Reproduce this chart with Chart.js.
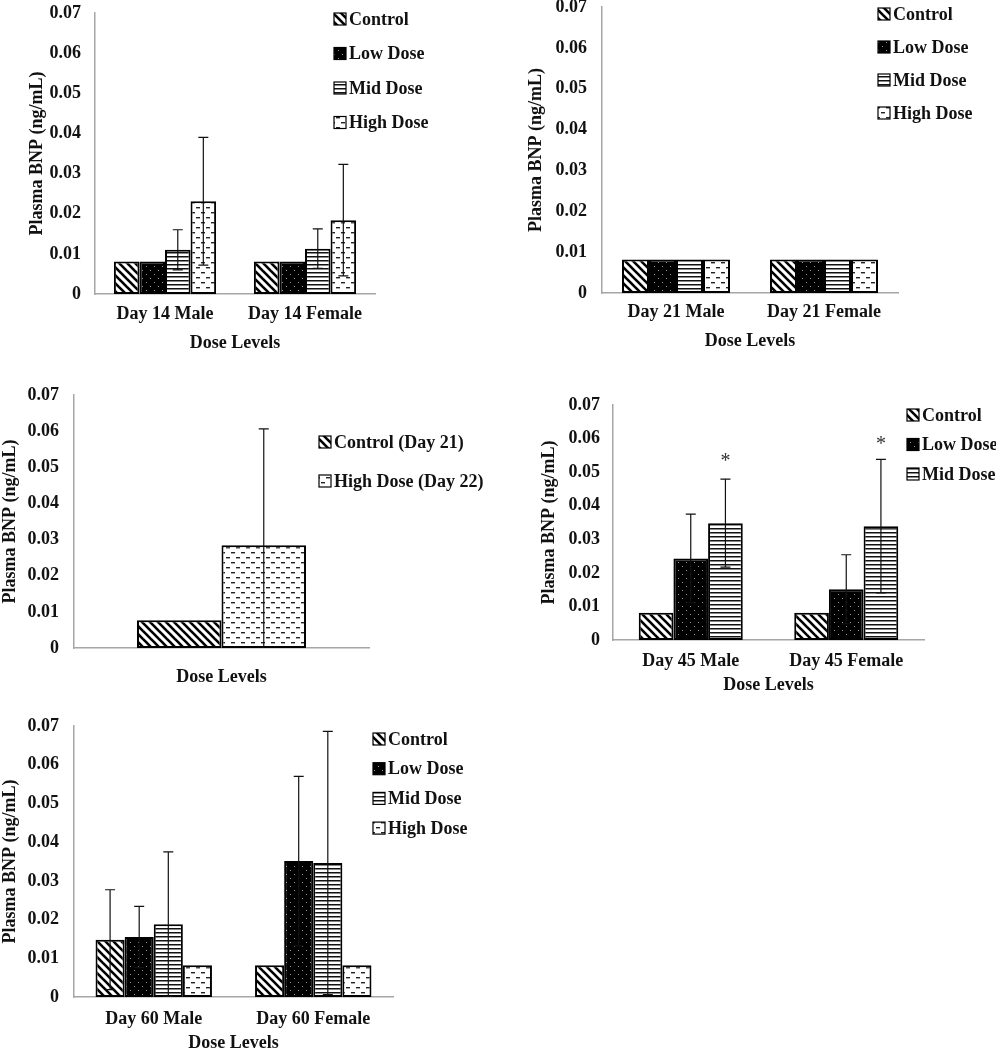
<!DOCTYPE html>
<html lang="en">
<head>
<meta charset="UTF-8">
<title>Plasma BNP by dose level</title>
<script src="https://cdn.jsdelivr.net/npm/chart.js"></script>
<style>
    body { margin: 0; background: #fff; }
    #page { position: relative; width: 996px; height: 1050px; overflow: hidden; background: #fff; }
    #page canvas { position: absolute; }
</style>
</head>
<body>
<div id="page">
    <canvas id="day14" width="500" height="360" style="left:0;top:0"></canvas>
    <canvas id="day21" width="496" height="360" style="left:500px;top:0"></canvas>
    <canvas id="recovery" width="500" height="340" style="left:0;top:360px"></canvas>
    <canvas id="day45" width="476" height="320" style="left:520px;top:380px"></canvas>
    <canvas id="day60" width="500" height="354" style="left:0;top:700px"></canvas>
</div>
<script>
// --- data (ng/mL) ---
const doseNames = ['Control', 'Low Dose', 'Mid Dose', 'High Dose'];
const recoveryNames = ['Control (Day 21)', 'High Dose (Day 22)'];

const day14Labels = ['Day 14 Male', 'Day 14 Female'];
const day14Control = [0.0081, 0.0081];
const day14Low = [0.0081, 0.0081];
const day14Mid = [0.0110, 0.0113];
const day14MidErr = [0.0050, 0.0049];
const day14High = [0.0231, 0.0184];
const day14HighErr = [0.0159, 0.0139];

const day21Labels = ['Day 21 Male', 'Day 21 Female'];
const day21Control = [0.0082, 0.0082];
const day21Low = [0.0082, 0.0082];
const day21Mid = [0.0082, 0.0082];
const day21High = [0.0082, 0.0082];

const recoveryLabels = [''];
const recoveryControl = [0.0077];
const recoveryHigh = [0.0284];
const recoveryHighErr = [0.0322];

const day45Labels = ['Day 45 Male', 'Day 45 Female'];
const day45Control = [0.0081, 0.0081];
const day45Low = [0.0243, 0.0151];
const day45LowErr = [0.0132, 0.0103];
const day45Mid = [0.0348, 0.0339];
const day45MidErr = [0.0131, 0.0199];
const day45Stars = [0.0540, 0.0590];   // height of the "*" marks

const day60Labels = ['Day 60 Male', 'Day 60 Female'];
const day60Control = [0.0148, 0.0082];
const day60ControlErr = [0.0129, 0];
const day60Low = [0.0155, 0.0351];
const day60LowErr = [0.0079, 0.0219];
const day60Mid = [0.0188, 0.0346];
const day60MidErr = [0.0187, 0.0340];
const day60High = [0.0082, 0.0082];

const yTicks = { min: 0, max: 0.07, step: 0.01 };

// --- fill patterns (Excel style hatches) ---
const FONT = "'Liberation Serif', 'Times New Roman', serif";
const helperCtx = document.createElement('canvas').getContext('2d');

function tile(w, h, draw) {
    const c = document.createElement('canvas');
    c.width = w; c.height = h;
    const g = c.getContext('2d');
    draw(g);
    return helperCtx.createPattern(c, 'repeat');
}

const patterns = {
    control: tile(8, 8, g => {
        g.fillStyle = '#fff'; g.fillRect(0, 0, 8, 8);
        g.strokeStyle = '#000'; g.lineWidth = 2.6;
        for (const k of [-8, 0, 8]) {
            g.beginPath(); g.moveTo(k - 1, -1); g.lineTo(k + 9, 9); g.stroke();
        }
    }),
    low: tile(8, 8, g => {
        g.fillStyle = '#000'; g.fillRect(0, 0, 8, 8);
        g.fillStyle = '#9a9a9a';
        g.fillRect(2, 2, 1, 1); g.fillRect(6, 6, 1, 1);
    }),
    mid: tile(4, 4, g => {
        g.fillStyle = '#fff'; g.fillRect(0, 0, 4, 4);
        g.fillStyle = '#111'; g.fillRect(0, 0, 4, 1.5);
    }),
    high: tile(10, 10, g => {
        g.fillStyle = '#fff'; g.fillRect(0, 0, 10, 10);
        g.fillStyle = '#222';
        g.fillRect(1, 2, 4, 1.4); g.fillRect(6, 7, 4, 1.4);
    })
};

function barSet(label, data, fill, errors) {
    return {
        label: label,
        data: data,
        errors: errors,
        backgroundColor: fill,
        borderColor: '#000',
        borderWidth: 2,
        borderSkipped: false
    };
}

// error bars drawn from the y scale
const errorBars = {
    id: 'errorBars',
    afterDatasetsDraw(chart) {
        const ctx = chart.ctx, ys = chart.scales.y, area = chart.chartArea;
        ctx.save();
        ctx.beginPath();
        ctx.rect(area.left, 0, area.width, area.bottom);
        ctx.clip();
        ctx.strokeStyle = '#111';
        ctx.lineWidth = 1.2;
        chart.data.datasets.forEach((ds, i) => {
            if (!ds.errors) return;
            chart.getDatasetMeta(i).data.forEach((bar, j) => {
                const e = ds.errors[j];
                if (!e) return;
                const v = ds.data[j];
                const top = ys.getPixelForValue(v + e);
                const low = v - e;
                const bot = ys.getPixelForValue(Math.max(low, 0));
                ctx.beginPath();
                ctx.moveTo(bar.x, top); ctx.lineTo(bar.x, bot);
                ctx.moveTo(bar.x - 5, top); ctx.lineTo(bar.x + 5, top);
                if (low > 0) { ctx.moveTo(bar.x - 5, bot); ctx.lineTo(bar.x + 5, bot); }
                ctx.stroke();
            });
        });
        ctx.restore();
    }
};

// significance stars
const starMarks = {
    id: 'starMarks',
    afterDatasetsDraw(chart, args, opts) {
        if (!opts.values) return;
        const ctx = chart.ctx, ys = chart.scales.y;
        const meta = chart.getDatasetMeta(opts.dataset);
        ctx.save();
        ctx.font = '20px ' + FONT;
        ctx.fillStyle = '#333';
        ctx.textAlign = 'center';
        ctx.textBaseline = 'middle';
        opts.values.forEach((v, j) => {
            ctx.fillText('*', meta.data[j].x, ys.getPixelForValue(v) + 3);
        });
        ctx.restore();
    }
};

// legend with patterned swatches
const boxLegend = {
    id: 'boxLegend',
    afterDraw(chart, args, opts) {
        const ctx = chart.ctx;
        ctx.save();
        ctx.font = 'bold 18px ' + FONT;
        ctx.textBaseline = 'middle';
        chart.data.datasets.forEach((ds, i) => {
            const cy = opts.y + i * opts.gap;
            ctx.fillStyle = ds.backgroundColor;
            ctx.fillRect(opts.x, cy - 6, 12, 12);
            ctx.strokeStyle = '#000';
            ctx.lineWidth = 1.2;
            ctx.strokeRect(opts.x, cy - 6, 12, 12);
            ctx.fillStyle = '#111';
            ctx.fillText(ds.label, opts.x + 15, cy + 1);
        });
        ctx.restore();
    }
};

function makeChart(id, labels, datasets, g) {
    const ctx = document.getElementById(id).getContext('2d');
    return new Chart(ctx, {
        type: 'bar',
        data: { labels: labels, datasets: datasets },
        plugins: [errorBars, starMarks, boxLegend],
        options: {
            responsive: false,
            animation: false,
            devicePixelRatio: 1,
            categoryPercentage: g.catPct,
            barPercentage: 1,
            layout: { padding: { top: g.top, right: g.right, left: 0, bottom: 0 } },
            plugins: {
                legend: { display: false },
                tooltip: { enabled: false },
                boxLegend: g.legend,
                starMarks: g.stars || {}
            },
            scales: {
                x: {
                    grid: { display: false, drawTicks: false },
                    border: { display: true, color: '#a6a6a6', width: 1.5 },
                    ticks: { color: '#111', padding: g.xPad, font: { family: FONT, size: 18, weight: 'bold' } },
                    title: {
                        display: true, text: 'Dose Levels', color: '#111',
                        padding: { top: 0, bottom: g.xTitlePad },
                        font: { family: FONT, size: 18, weight: 'bold' }
                    },
                    afterFit: s => { s.height = g.xh; s.paddingLeft = 0; s.paddingRight = 0; }
                },
                y: {
                    min: yTicks.min,
                    max: yTicks.max,
                    grid: { display: false, drawTicks: false },
                    border: { display: true, color: '#a6a6a6', width: 1.5 },
                    ticks: {
                        stepSize: yTicks.step,
                        color: '#111',
                        padding: g.yPad,
                        font: { family: FONT, size: 18, weight: 'bold' },
                        callback: v => v === 0 ? '0' : v.toFixed(2)
                    },
                    title: {
                        display: true, text: 'Plasma BNP (ng/mL)', color: '#111',
                        padding: { top: g.yTitlePad, bottom: 0 },
                        font: { family: FONT, size: 18, weight: 'bold' }
                    },
                    afterFit: s => { s.width = g.yw; s.paddingTop = 0; s.paddingBottom = 0; }
                }
            }
        }
    });
}

makeChart('day14', day14Labels, [
    barSet(doseNames[0], day14Control, patterns.control),
    barSet(doseNames[1], day14Low, patterns.low),
    barSet(doseNames[2], day14Mid, patterns.mid, day14MidErr),
    barSet(doseNames[3], day14High, patterns.high, day14HighErr)
], { top: 13, right: 125, yw: 95, xh: 66, yPad: 14, xPad: 10, yTitlePad: 27, xTitlePad: 6, catPct: 0.73,
     legend: { x: 334, y: 19, gap: 34.5 } });

makeChart('day21', day21Labels, [
    barSet(doseNames[0], day21Control, patterns.control),
    barSet(doseNames[1], day21Low, patterns.low),
    barSet(doseNames[2], day21Mid, patterns.mid),
    barSet(doseNames[3], day21High, patterns.high)
], { top: 7, right: 98, yw: 102, xh: 67, yPad: 15, xPad: 9, yTitlePad: 26, xTitlePad: 8, catPct: 0.73,
     legend: { x: 378, y: 14, gap: 33 } });

makeChart('recovery', recoveryLabels, [
    barSet(recoveryNames[0], recoveryControl, patterns.control),
    barSet(recoveryNames[1], recoveryHigh, patterns.high, recoveryHighErr)
], { top: 35, right: 131, yw: 74, xh: 52, yPad: 15, xPad: 10, yTitlePad: 0, xTitlePad: 12, catPct: 0.573,
     legend: { x: 319, y: 82, gap: 39 } });

makeChart('day45', day45Labels, [
    barSet(doseNames[0], day45Control, patterns.control),
    barSet(doseNames[1], day45Low, patterns.low, day45LowErr),
    barSet(doseNames[2], day45Mid, patterns.mid, day45MidErr)
], { top: 25, right: 72, yw: 93, xh: 60, yPad: 13, xPad: 11, yTitlePad: 19, xTitlePad: 4, catPct: 0.669,
     legend: { x: 387, y: 35, gap: 29.5 }, stars: { dataset: 2, values: day45Stars } });

makeChart('day60', day60Labels, [
    barSet(doseNames[0], day60Control, patterns.control, day60ControlErr),
    barSet(doseNames[1], day60Low, patterns.low, day60LowErr),
    barSet(doseNames[2], day60Mid, patterns.mid, day60MidErr),
    barSet(doseNames[3], day60High, patterns.high)
], { top: 26, right: 107, yw: 74, xh: 57, yPad: 15, xPad: 12, yTitlePad: 0, xTitlePad: 0, catPct: 0.73,
     legend: { x: 373, y: 39, gap: 29.7 } });
</script>
</body>
</html>
